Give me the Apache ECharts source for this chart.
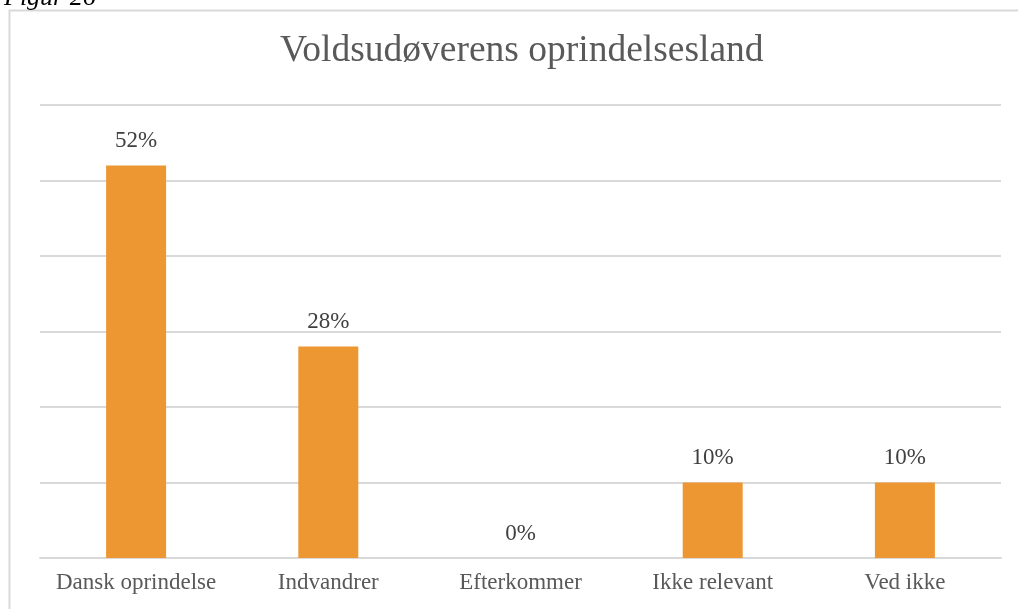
<!DOCTYPE html>
<html>
<head>
<meta charset="utf-8">
<script src="https://cdn.jsdelivr.net/npm/echarts@6/dist/echarts.min.js"></script>
<style>
  html, body { margin: 0; padding: 0; background: #fff; }
  #chart { width: 1018px; height: 609px; }
</style>
</head>
<body>
<div id="chart"></div>
<script>
// kategorier og værdier (procent)
const categories = ['Dansk oprindelse', 'Indvandrer', 'Efterkommer', 'Ikke relevant', 'Ved ikke']
const values = [52, 28, 0, 10, 10]
const chartTitle = 'Voldsudøverens oprindelsesland'
const figureLabel = 'Figur 26'

const serif = '"Liberation Serif", "DejaVu Serif", serif'

const chart = echarts.init(document.getElementById('chart'))
const option = {
  animation: false,
  backgroundColor: '#fff',
  title: {
    text: chartTitle,
    left: 275,
    top: 27,
    textStyle: {
      fontFamily: serif,
      fontWeight: 'normal',
      fontSize: 37.5,
      color: '#595959'
    }
  },
  graphic: [
    {
      type: 'rect',
      shape: { x: 9.5, y: 10.5, width: 1030, height: 640 },
      style: { fill: 'none', stroke: '#d9d9d9', lineWidth: 2 },
      silent: true
    },
    {
      type: 'text',
      left: 4,
      top: -15,
      style: {
        text: figureLabel,
        font: 'italic 26px ' + serif,
        fill: '#000'
      }
    }
  ],
  grid: {
    left: 40,
    right: 17,
    top: 105,
    bottom: 51
  },
  xAxis: {
    type: 'category',
    data: categories,
    axisTick: { show: false },
    axisLine: { lineStyle: { color: '#d9d9d9', width: 2 } },
    axisLabel: {
      interval: 0,
      fontFamily: serif,
      fontSize: 23,
      color: '#595959',
      margin: 13
    }
  },
  yAxis: {
    type: 'value',
    min: 0,
    max: 60,
    interval: 10,
    axisLabel: { show: false },
    axisLine: { show: false },
    axisTick: { show: false },
    splitLine: { lineStyle: { color: '#d9d9d9', width: 2 } }
  },
  series: [
    {
      type: 'bar',
      data: values,
      barWidth: 60,
      itemStyle: { color: '#ed9732' },
      label: {
        show: true,
        position: 'top',
        distance: 13,
        formatter: '{c}%',
        fontFamily: serif,
        fontSize: 23,
        color: '#404040'
      }
    }
  ]
}
chart.setOption(option)
</script>
</body>
</html>
